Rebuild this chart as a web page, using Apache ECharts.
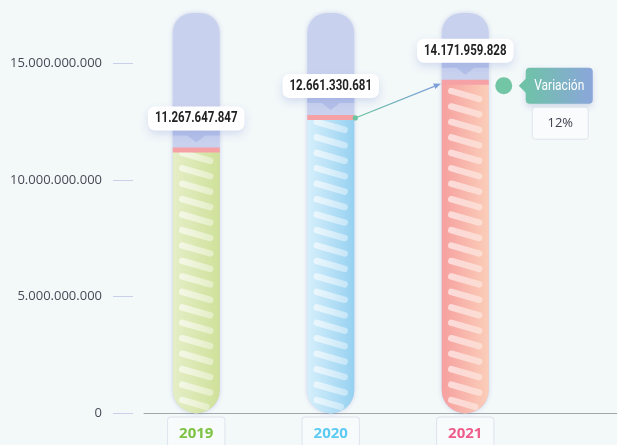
<!DOCTYPE html>
<html><head><meta charset="utf-8">
<script src="https://cdn.jsdelivr.net/npm/echarts@6/dist/echarts.min.js"></script>
<style>html,body{margin:0;padding:0;background:#f3f8f9;}#c{width:617px;height:445px;}</style>
</head><body><div id="c"></div>
<script>
// ---- data ----
const years = ['2019', '2020', '2021'];
const totals = [11267647847, 12661330681, 14171959828];
const yTicks = [0, 5000000000, 10000000000, 15000000000];
const yearColors = ['#7dc242', '#5ccaf3', '#ee5c8a'];
const barGradients = [['#e5eec7', '#cfe19a'], ['#d6effb', '#96d1f1'], ['#f6a09f', '#fbceb9']];
const variationTitle = 'Variación';

// ---- helpers ----
function fmt(v) { return Math.round(v).toString().replace(/\B(?=(\d{3})+(?!\d))/g, '.'); }
const last = totals.length - 1;
const variationText = Math.round((totals[last] / totals[last - 1] - 1) * 100) + '%';

const BAR_W = 47, HALF = BAR_W / 2, LABEL_GAP = 20, STRIPE_STEP = 15.45, STRIPE_W = 6.4;
const SANS = '"Open Sans","Noto Sans",sans-serif';
const COND = 'Roboto,"DejaVu Sans",sans-serif';
const LABEL_FONT = 'bold 14px ' + COND, LABEL_SCALE = 0.82;
const TAG_FONT = '15px ' + COND, TAG_SCALE = 0.8;
const grad = (a, b) => new echarts.graphic.LinearGradient(0, 0, 1, 0, [{offset: 0, color: a}, {offset: 1, color: b}]);

const mctx = document.createElement('canvas').getContext('2d');
function textW(t, font) { mctx.font = font; return mctx.measureText(t).width; }

// keep the part of a stripe that stays inside the bar (rounded bottom)
function fitStripe(ax, ay, bx, by, cx, cyc) {
  const R = HALF - STRIPE_W / 2 - 0.5;
  const ok = (t) => {
    const px = ax + t * (bx - ax), py = ay + t * (by - ay);
    if (py <= cyc) return Math.abs(px - cx) <= R;
    return Math.hypot(px - cx, py - cyc) <= R;
  };
  let t0 = -1, t1 = -1;
  for (let s = 0; s <= 50; s++) {
    const t = s / 50;
    if (ok(t)) { if (t0 < 0) t0 = t; t1 = t; }
  }
  if (t0 < 0 || t1 - t0 < 0.05) return null;
  return [ax + t0 * (bx - ax), ay + t0 * (by - ay), ax + t1 * (bx - ax), ay + t1 * (by - ay)];
}

function renderOverlay(params, api) {
  const i = params.dataIndex;
  const p = api.coord([i, api.value(1)]);
  const x = p[0], top = p[1];
  const base = api.coord([i, 0])[1];
  const children = [];

  // diagonal stripes
  for (let k = 0; ; k++) {
    const cy = base - 9.4 - k * STRIPE_STEP;
    if (cy < top + 5) break;
    const seg = fitStripe(x - 14, cy - 4, x + 14, cy + 4, x, base - HALF);
    if (!seg) continue;
    children.push({
      type: 'line', shape: {x1: seg[0], y1: seg[1], x2: seg[2], y2: seg[3]},
      style: {stroke: grad('rgba(255,255,255,0.6)', 'rgba(255,255,255,0.4)'), lineWidth: STRIPE_W, lineCap: 'round'}
    });
  }
  // top cap
  children.push({type: 'rect', shape: {x: x - HALF, y: top - 3, width: BAR_W, height: 5}, style: {fill: '#f6a1a5'}});

  // value label with notch
  const txt = fmt(api.value(1));
  const bw = textW(txt, LABEL_FONT) * LABEL_SCALE + 14, bh = 24;
  const by = top - LABEL_GAP;
  children.push({
    type: 'polygon',
    shape: {points: [[x - HALF, by], [x + HALF, by], [x + HALF, by + 5], [x + 9, by + 5], [x, by + 12], [x - 9, by + 5], [x - HALF, by + 5]]},
    style: {fill: 'rgba(140,158,222,0.35)'}
  });
  children.push({
    type: 'rect', shape: {x: x - bw / 2, y: by - bh, width: bw, height: bh, r: 7},
    style: {fill: '#fff', shadowBlur: 8, shadowOffsetY: 4, shadowColor: 'rgba(140,160,220,0.3)'}
  });
  children.push({
    type: 'text', x: x, y: by - bh / 2 + 0.5, scaleX: LABEL_SCALE,
    style: {text: txt, x: 0, y: 0, align: 'center', verticalAlign: 'middle', fill: '#222', font: LABEL_FONT}
  });

  if (i === last) {
    const q = api.coord([i - 1, totals[i - 1]]);
    const sx = q[0] + HALF + 1, sy = q[1];
    const ex = x - HALF - 1, ey = top + 1;
    const ang = Math.atan2(ey - sy, ex - sx);
    const L = 7, W = 3;
    const ax = ex - L * Math.cos(ang), ay = ey - L * Math.sin(ang);
    children.push({
      type: 'line', shape: {x1: sx, y1: sy, x2: ax, y2: ay},
      style: {stroke: grad('#67c3a0', '#7d9fd8'), lineWidth: 1.2}
    });
    children.push({type: 'circle', shape: {cx: sx, cy: sy, r: 2.6}, style: {fill: '#6cc5a2'}});
    children.push({
      type: 'polygon',
      shape: {points: [[ex, ey], [ax - W * Math.sin(ang), ay + W * Math.cos(ang)], [ax + W * Math.sin(ang), ay - W * Math.cos(ang)]]},
      style: {fill: '#7d9fd8'}
    });
    const rx = x + HALF, cy = top + 3;
    children.push({type: 'circle', shape: {cx: rx + 15, cy: cy, r: 8.5}, style: {fill: '#72c6a5'}});
    children.push({
      type: 'rect', shape: {x: rx + 37, y: cy - 18, width: 67, height: 36, r: 4},
      style: {fill: grad('#6fc2a8', '#8ba6db'), shadowBlur: 6, shadowColor: 'rgba(100,120,180,0.25)', shadowOffsetY: 3}
    });
    children.push({
      type: 'polygon', shape: {points: [[rx + 30, cy], [rx + 38, cy - 8], [rx + 38, cy + 8]]},
      style: {fill: '#6fc2a8'}
    });
    children.push({
      type: 'text', x: rx + 70.5, y: cy + 0.5, scaleX: TAG_SCALE,
      style: {text: variationTitle, x: 0, y: 0, align: 'center', verticalAlign: 'middle', fill: '#fff', font: TAG_FONT}
    });
    children.push({
      type: 'rect', shape: {x: rx + 43.5, y: cy + 21.5, width: 56, height: 32, r: 3},
      style: {fill: '#f9fbfc', stroke: '#dfe5ee', lineWidth: 1}
    });
    children.push({
      type: 'text',
      style: {text: variationText, x: rx + 71.5, y: cy + 37.5, align: 'center', verticalAlign: 'middle', fill: '#3e4150', font: '13px ' + SANS}
    });
  }
  return {type: 'group', children};
}

const chart = echarts.init(document.getElementById('c'), null, {renderer: 'canvas'});
chart.setOption({
  animation: false,
  backgroundColor: '#f3f8f9',
  grid: [
    {left: 129, right: 84.5, top: 13, bottom: 31.6, outerBoundsMode: 'none', containLabel: false},
    {left: 144, right: 0, top: 13, bottom: 31.6, outerBoundsMode: 'none', containLabel: false}
  ],
  xAxis: [{
    type: 'category', data: years, gridIndex: 0,
    axisLine: {show: false}, axisTick: {show: false},
    axisLabel: {
      margin: 4, fontFamily: SANS, fontWeight: 'bold', fontSize: 15, lineHeight: 16,
      color: (v) => yearColors[years.indexOf(v)],
      backgroundColor: '#f8fbfc', borderColor: '#dfe4ee', borderWidth: 1, borderRadius: 3,
      padding: [8, 11, 8, 11]
    }
  }, {
    type: 'value', gridIndex: 1, min: 0, max: 1,
    axisLine: {show: true, onZero: false, lineStyle: {color: '#a3a7ab', width: 1}},
    axisTick: {show: false}, axisLabel: {show: false}, splitLine: {show: false}
  }],
  yAxis: [{
    type: 'value', gridIndex: 0, min: 0, max: 17160000000, offset: -4,
    axisLine: {show: false},
    axisTick: {show: true, length: 20, customValues: yTicks, lineStyle: {color: '#c8d0ea', width: 1}},
    axisLabel: {customValues: yTicks, formatter: fmt, margin: 31, color: '#474a56', fontSize: 13, fontFamily: SANS},
    splitLine: {show: false}
  }, {
    type: 'value', gridIndex: 1, min: 0, max: 1, show: false
  }],
  series: [{
    type: 'bar', xAxisIndex: 0, yAxisIndex: 0, barWidth: BAR_W, z: 2,
    showBackground: true,
    backgroundStyle: {color: '#c8d1ee', borderRadius: [20, 20, HALF, HALF], shadowBlur: 4, shadowColor: 'rgba(110,130,200,0.3)'},
    data: totals.map((v, i) => ({value: v, itemStyle: {color: grad(barGradients[i][0], barGradients[i][1])}})),
    itemStyle: {borderRadius: [0, 0, HALF, HALF]}
  }, {
    type: 'custom', xAxisIndex: 0, yAxisIndex: 0, clip: false, z: 10,
    data: totals.map((v, i) => [i, v]), encode: {x: 0, y: 1},
    renderItem: renderOverlay
  }]
});
</script>
</body></html>
